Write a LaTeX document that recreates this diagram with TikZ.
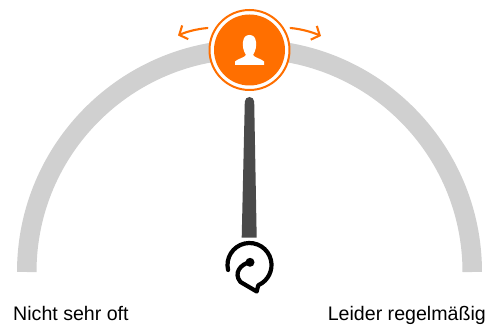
\documentclass[tikz,border=0pt]{standalone}
\usepackage{fontspec}
\setmainfont{Liberation Sans}
\usepackage{xcolor}
\usetikzlibrary{arrows.meta,positioning,calc}
\definecolor{accent}{HTML}{FF6F00}
\definecolor{band}{HTML}{D0D0D0}
\definecolor{needle}{HTML}{4A4A4A}

\begin{document}
\begin{tikzpicture}[x=1pt, y=-1pt, line join=round,
  lbl/.style={font=\fontsize{19.6}{22}\selectfont, inner sep=0pt, text=black},
  swing/.style={draw=accent, line width=2.1pt, line cap=round, -{Straight Barb[length=6.5pt, width=15pt, line width=2.1pt]}},
  loopline/.style={draw=black, line width=4.2pt, line cap=round}]
\useasboundingbox (0,0) rectangle (491,326);
% scale band
\draw[band, line width=19.5pt] (17+9.75,272) arc[start angle=180, end angle=360, radius=222.75];
% needle
\fill[needle] (241.7,237.7) -- (244.8,101.7) arc[start angle=180, end angle=360, radius=4.7] -- (256.7,237.7) -- cycle;
% pivot icon
\coordinate (hub) at (249.5,265);
\draw[loopline] ($(hub)+(167:22)$) arc[start angle=167, end angle=425, radius=22];
\draw[loopline] (249.6,262.3) .. controls (241,264) and (233,273) .. (240.5,282) -- (256.7,291.5) -- (258.2,285.5);
\fill[black] (250,262.3) circle[radius=4.5];
% badge
\node[circle, draw=accent, line width=2pt, fill=white, minimum size=80pt, inner sep=0pt] (ring) at (249.5,50) {};
\node[circle, fill=accent, minimum size=71pt, inner sep=0pt] (disc) at (ring.center) {};
\fill[white] (235,65) -- (235,61.5) .. controls (238,58.5) and (244,58) .. (246,55) .. controls (243,50) and (242.5,46) .. (243,42) .. controls (243.5,37) and (246,35) .. (249.5,35) .. controls (253,35) and (255.5,37) .. (256,42) .. controls (256.5,46) and (256,50) .. (253,55) .. controls (255,58) and (261,58.5) .. (264,61.5) -- (264,65) -- cycle;
% swing arrows
\coordinate (leftfrom) at (207.5,28);
\coordinate (leftto) at (178,35.5);
\coordinate (rightfrom) at (290.5,28);
\coordinate (rightto) at (321,36);
\draw[swing] (leftfrom) .. controls (197,29) and (187,31.5) .. (leftto);
\draw[swing] (rightfrom) .. controls (301,29) and (312,32) .. (rightto);
% labels
\node[lbl, anchor=base west] (low) at (13,321) {Nicht sehr oft};
\node[lbl, anchor=base east] (high) at (486,321) {Leider regelmäßig};
\end{tikzpicture}
\end{document}
